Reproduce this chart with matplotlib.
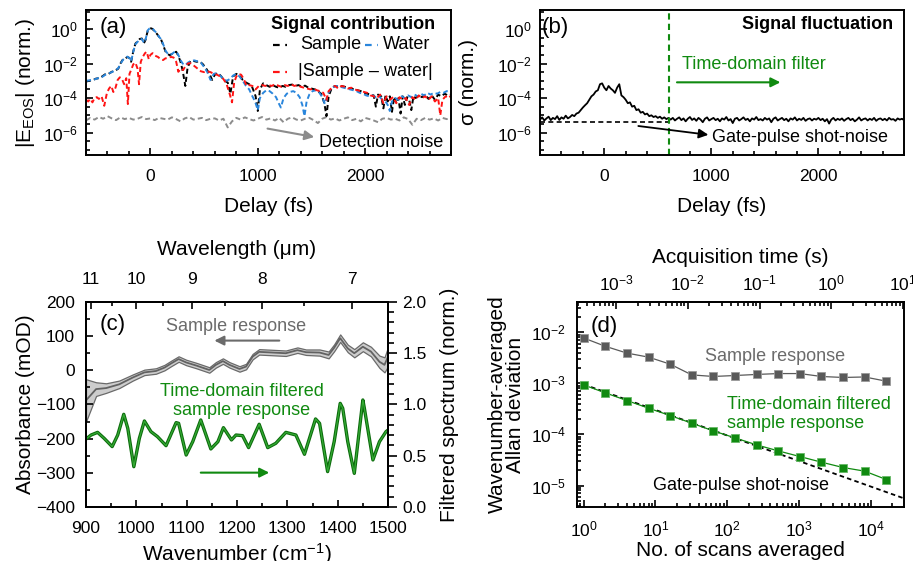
import matplotlib
matplotlib.use('Agg')

import matplotlib.pyplot as plt
import numpy as np
from matplotlib.ticker import FixedLocator, MultipleLocator, LogLocator, NullFormatter

plt.rcParams['font.family'] = ['Liberation Sans', 'DejaVu Sans']
plt.rcParams['mathtext.fontset'] = 'custom'
plt.rcParams['mathtext.rm'] = 'Liberation Sans'
plt.rcParams['mathtext.it'] = 'Liberation Sans:italic'
plt.rcParams['mathtext.bf'] = 'Liberation Sans:bold'
plt.rcParams['mathtext.default'] = 'regular'
plt.rcParams['axes.linewidth'] = 1.4

# ---------------- (a) signal contribution, log10 of |E_EOS| ----------------
sample_t = [-600, -570, -540, -510, -480, -450, -420, -390, -360, -330, -300, -275, -255, -235,
            -215, -195, -180, -160, -140, -120, -100, -80, -60, -45, -25, -10, 5, 20, 40, 60, 80,
            100, 120, 140, 160, 180, 200, 220, 240, 260, 280, 300, 325, 345, 370, 400, 430, 460,
            490, 520, 550, 575, 600, 630, 660, 690, 720, 745, 770, 800, 830, 860, 890, 920, 950,
            980, 1000, 1020, 1050, 1080, 1110, 1140, 1170, 1200, 1230, 1260, 1290, 1320, 1350,
            1380, 1410, 1440, 1470, 1500, 1530, 1560, 1590, 1620, 1640, 1660, 1690, 1720, 1750,
            1780, 1810, 1840, 1870, 1900, 1930, 1960, 1990, 2020, 2050, 2080, 2100, 2120, 2150,
            2170, 2190, 2210, 2230, 2250, 2270, 2290, 2310, 2330, 2350, 2370, 2390, 2410, 2430,
            2450, 2470, 2500, 2530, 2560, 2590, 2620, 2650, 2680, 2710, 2740, 2770, 2800]
sample_log = [-3.05, -3.0, -2.98, -2.88, -2.85, -2.75, -2.62, -2.6, -2.48, -2.42, -2.3, -1.95,
              -1.75, -1.72, -1.62, -1.68, -1.9, -1.3, -0.85, -0.72, -0.58, -0.55, -0.82, -0.62,
              -0.1, 0.0, 0.04, 0.0, -0.15, -0.28, -0.45, -0.62, -0.95, -1.3, -1.45, -1.52, -1.45,
              -1.38, -1.32, -1.55, -1.9, -2.4, -3.3, -2.3, -1.85, -1.85, -1.9, -1.88, -2.05, -2.3,
              -2.6, -2.95, -2.65, -2.55, -2.75, -3.0, -3.1, -3.75, -2.75, -2.6, -2.7, -2.95, -3.1,
              -3.2, -3.4, -3.9, -4.75, -3.5, -3.15, -3.25, -3.35, -3.25, -3.35, -3.4, -3.3, -3.35,
              -3.25, -3.22, -3.3, -3.25, -3.35, -3.28, -3.4, -3.45, -3.5, -3.6, -3.75, -4.3, -5.05,
              -3.9, -3.4, -3.3, -3.35, -3.3, -3.35, -3.4, -3.45, -3.5, -3.55, -3.6, -3.7, -3.75,
              -3.8, -3.85, -4.5, -3.8, -3.9, -4.6, -3.85, -4.2, -3.9, -4.8, -3.95, -4.3, -4.0,
              -4.9, -3.9, -4.4, -3.95, -4.1, -4.7, -3.9, -4.0, -3.85, -3.95, -3.8, -4.05, -3.85,
              -4.1, -3.8, -3.9, -3.75, -3.85, -3.8]

water_t = [-600, -570, -540, -510, -480, -450, -420, -390, -360, -330, -300, -275, -255, -235,
           -215, -195, -180, -160, -140, -120, -100, -80, -60, -45, -25, -10, 5, 20, 40, 60, 80,
           100, 120, 140, 160, 180, 200, 220, 240, 260, 280, 300, 325, 350, 380, 410, 440, 470,
           500, 530, 560, 590, 620, 650, 680, 710, 740, 770, 800, 830, 860, 890, 920, 950, 975,
           1000, 1020, 1050, 1080, 1110, 1140, 1170, 1195, 1215, 1240, 1270, 1300, 1330, 1360,
           1390, 1415, 1435, 1455, 1480, 1510, 1540, 1570, 1600, 1625, 1650, 1680, 1710, 1740,
           1770, 1800, 1830, 1860, 1890, 1920, 1950, 1980, 2010, 2040, 2070, 2100, 2130, 2160,
           2190, 2210, 2230, 2250, 2280, 2310, 2340, 2370, 2400, 2430, 2460, 2490, 2520, 2550,
           2580, 2610, 2640, 2670, 2700, 2730, 2760, 2800]
water_log = [-3.0, -2.98, -2.95, -2.9, -2.83, -2.78, -2.65, -2.58, -2.5, -2.4, -2.28, -1.98,
             -1.78, -1.7, -1.6, -1.7, -1.88, -1.32, -0.88, -0.75, -0.6, -0.58, -0.8, -0.6, -0.08,
             0.02, 0.05, 0.02, -0.12, -0.25, -0.45, -0.6, -0.9, -1.25, -1.42, -1.5, -1.45, -1.35,
             -1.3, -1.5, -1.8, -2.0, -2.1, -1.95, -1.85, -1.82, -1.88, -1.95, -2.2, -2.5, -2.95,
             -2.6, -2.55, -2.7, -2.9, -3.0, -2.9, -2.7, -2.6, -2.75, -3.0, -3.3, -3.5, -3.9, -4.2,
             -4.7, -4.0, -3.7, -3.55, -3.6, -3.75, -3.95, -4.3, -4.55, -4.0, -3.75, -3.65, -3.6,
             -3.7, -3.95, -4.4, -5.05, -4.2, -3.8, -3.6, -3.55, -3.65, -3.95, -4.35, -3.8, -3.45,
             -3.35, -3.3, -3.35, -3.4, -3.45, -3.5, -3.55, -3.6, -3.7, -3.75, -3.85, -3.9, -3.85,
             -3.95, -3.9, -4.1, -4.2, -4.4, -4.75, -4.2, -4.0, -4.1, -3.9, -4.0, -3.85, -3.95,
             -3.8, -3.9, -3.75, -3.85, -3.7, -3.8, -3.7, -3.75, -3.65, -3.7, -3.6, -3.65]

diff_t = [-600, -580, -560, -540, -520, -500, -480, -455, -430, -405, -385, -365, -345, -325,
          -305, -285, -265, -245, -225, -210, -195, -178, -160, -140, -120, -106, -90, -70, -50,
          -35, -15, 0, 20, 45, 70, 95, 118, 140, 165, 190, 215, 240, 260, 280, 305, 330, 355,
          380, 410, 440, 470, 500, 530, 560, 590, 620, 650, 680, 710, 740, 760, 780, 800, 820,
          845, 870, 895, 920, 950, 980, 1010, 1040, 1070, 1100, 1130, 1160, 1190, 1220, 1250,
          1280, 1310, 1340, 1370, 1400, 1430, 1460, 1490, 1520, 1550, 1580, 1610, 1640, 1660,
          1690, 1720, 1750, 1780, 1810, 1840, 1870, 1900, 1930, 1960, 1990, 2020, 2050, 2080,
          2110, 2140, 2170, 2200, 2230, 2260, 2290, 2320, 2350, 2380, 2410, 2440, 2470, 2500,
          2530, 2560, 2590, 2620, 2650, 2680, 2700, 2720, 2750, 2780, 2800]
diff_log = [-4.1, -4.2, -4.05, -4.25, -4.0, -3.95, -4.05, -3.9, -4.45, -3.7, -3.45, -3.3, -3.65,
            -3.4, -2.95, -2.8, -2.9, -3.2, -2.85, -4.35, -2.6, -2.35, -2.05, -1.95, -2.3, -3.2,
            -1.9, -1.6, -1.4, -1.32, -1.75, -1.5, -1.4, -1.55, -1.62, -1.75, -1.8, -1.7, -1.68,
            -1.62, -1.65, -1.9, -2.48, -2.3, -2.38, -2.1, -1.98, -2.0, -2.15, -2.3, -2.45, -2.5,
            -2.45, -2.5, -2.6, -2.65, -2.75, -2.9, -3.2, -3.8, -4.25, -3.1, -2.75, -2.6, -2.65,
            -2.9, -3.3, -3.25, -3.3, -3.5, -3.3, -3.25, -3.3, -3.25, -3.3, -3.2, -3.28, -3.35,
            -3.25, -3.3, -3.2, -3.3, -3.25, -3.35, -3.4, -3.45, -3.5, -3.45, -3.55, -3.6, -3.7,
            -4.1, -3.6, -3.4, -3.3, -3.45, -3.3, -3.35, -3.45, -3.4, -3.5, -3.55, -3.6, -3.65,
            -3.7, -3.85, -3.9, -4.0, -3.8, -4.3, -3.9, -4.1, -3.95, -4.3, -3.95, -4.1, -4.0,
            -4.4, -3.95, -4.1, -3.85, -4.0, -3.9, -4.1, -3.9, -4.2, -4.0, -5.0, -4.1, -3.9, -4.0,
            -3.85]

# detection noise, sampled every 40 fs
noise_t = list(range(-600, 2801, 40))
noise_log = [-5.3, -5.15, -5.25, -5.1, -5.2, -5.05, -5.18, -5.28, -5.12, -5.22,
             -5.15, -5.25, -5.2, -5.1, -5.22, -5.18, -5.28, -5.15, -5.2, -5.25,
             -5.12, -5.22, -5.35, -5.18, -5.1, -5.25, -5.2, -5.15, -5.28, -5.2,
             -5.18, -5.3, -5.2, -5.7, -5.35, -5.15, -5.25, -5.12, -5.22, -5.3,
             -5.2, -5.1, -5.25, -5.18, -5.3, -5.15, -5.4, -5.2, -5.12, -5.25,
             -5.3, -5.2, -5.15, -5.28, -5.45, -5.2, -5.1, -5.25, -5.18, -5.3,
             -5.2, -5.12, -5.28, -5.2, -5.35, -5.15, -5.22, -5.3, -5.4, -5.2,
             -5.15, -5.25, -5.2, -5.3, -5.12, -5.22, -5.55, -5.2, -5.28, -5.15,
             -5.25, -5.18, -5.3, -5.15, -5.22, -5.2]

# ---------------- (b) signal fluctuation, sampled every 20 fs ----------------
sigma_t = list(range(-600, 2801, 20))
sigma_log = [-5.25, -5.12, -5.3, -5.18, -5.08, -5.28, -5.15, -5.22, -5.05, -5.27, -5.12, -5.2,
             -5.02, -5.18, -5.1, -4.98,
             -5.05, -4.9, -4.85, -4.7, -4.55, -4.42, -4.3, -4.1, -3.9, -3.8, -3.62, -3.55, -3.2,
             -3.15, -3.4,
             -3.55, -3.3, -3.45, -3.55, -3.7, -3.4, -3.2, -3.85, -3.95, -4.1, -4.3, -4.25, -4.5,
             -4.45, -4.7,
             -4.65, -4.85, -4.8, -4.95, -4.9, -5.05, -5.0, -5.1, -5.05, -5.15, -5.08, -5.2, -5.12,
             -5.22, -5.15,
             -5.25, -5.15, -5.3, -5.2, -5.12, -5.28, -5.18, -5.35, -5.2, -5.1,
             -5.27, -5.18, -5.32, -5.15, -5.25, -5.4, -5.2, -5.12, -5.3, -5.22,
             -5.15, -5.28, -5.2, -5.35, -5.18, -5.25, -5.1, -5.3, -5.22, -5.45,
             -5.2, -5.15, -5.3, -5.22, -5.12, -5.27, -5.2, -5.35, -5.18, -5.25,
             -5.1, -5.28, -5.22, -5.3, -5.15, -5.25, -5.18, -5.4, -5.2, -5.12,
             -5.3, -5.22, -5.15, -5.28, -5.2, -5.35, -5.18, -5.25, -5.12, -5.3,
             -5.2, -5.27, -5.15, -5.32, -5.22, -5.18, -5.3, -5.2, -5.25, -5.15,
             -5.28, -5.2, -5.35, -5.22, -5.48, -5.25, -5.15, -5.3, -5.2, -5.27,
             -5.18, -5.32, -5.22, -5.15, -5.28, -5.2, -5.35, -5.25, -5.12, -5.3,
             -5.22, -5.18, -5.3, -5.2, -5.27, -5.15, -5.32, -5.22, -5.18, -5.28,
             -5.2, -5.3, -5.15, -5.25, -5.22, -5.32, -5.18, -5.25, -5.2, -5.28]
shot_t = [-600, 600]
shot_level = [3.9e-6, 3.9e-6]
filter_start = 600

# ---------------- (c) spectra ----------------
wn_sample = [900, 920, 940, 966, 993, 1016, 1039, 1056, 1069, 1084, 1099, 1119, 1145, 1158,
             1172, 1185, 1205, 1218, 1231, 1244, 1271, 1297, 1320, 1337, 1364, 1382, 1393,
             1405, 1420, 1433, 1450, 1466, 1483, 1493, 1500]
absorbance = [-88, -55, -52, -41, -21, -6, -2, 8, 20, 33, 23, 14, 1, 16, 27, 16, 4, 11, 40, 54,
              52, 50, 59, 53, 52, 45, 66, 94, 64, 50, 69, 55, 25, 16, 40]
absorbance_err = [62, 20, 14, 11, 9, 8, 8, 8, 8, 8, 8, 8, 8, 8, 8, 8, 8, 8, 8, 8, 8, 8, 8, 8, 9,
                  10, 10, 11, 11, 12, 13, 14, 18, 22, 28]

wn_filtered = [900, 910, 923, 936, 952, 963, 975, 983, 995, 1006, 1016, 1029, 1042, 1059, 1079,
               1084, 1099, 1112, 1128, 1148, 1162, 1173, 1189, 1198, 1211, 1223, 1244, 1261,
               1277, 1297, 1317, 1334, 1356, 1364, 1380, 1393, 1405, 1410, 1420, 1433, 1450,
               1453, 1470, 1483, 1496, 1500]
filtered = [0.663, 0.702, 0.728, 0.67, 0.589, 0.702, 0.904, 0.767, 0.393, 0.67, 0.839, 0.735,
            0.686, 0.598, 0.823, 0.816, 0.507, 0.637, 0.849, 0.566, 0.637, 0.774, 0.654, 0.702,
            0.696, 0.579, 0.807, 0.579, 0.621, 0.728, 0.702, 0.514, 0.859, 0.816, 0.345, 0.637,
            1.011, 0.963, 0.637, 0.328, 1.044, 0.963, 0.459, 0.637, 0.735, 0.75]
wavelength_major = [11, 10, 9, 8, 7]
wavelength_minor = [10.5, 9.5, 8.5, 7.5]

# ---------------- (d) Allan deviation ----------------
n_scans = [1, 2, 4, 8, 16, 32, 64, 128, 256, 512, 1024, 2048, 4096, 8192, 16384]
allan_sample = [7.7e-3, 5.3e-3, 3.9e-3, 3.25e-3, 2.37e-3, 1.46e-3, 1.36e-3, 1.42e-3, 1.49e-3,
                1.55e-3, 1.55e-3, 1.36e-3, 1.3e-3, 1.33e-3, 1.1e-3]
allan_filtered = [9.3e-4, 6.5e-4, 4.6e-4, 3.26e-4, 2.34e-4, 1.66e-4, 1.17e-4, 8.55e-5, 6.24e-5,
                  4.76e-5, 3.69e-5, 2.86e-5, 2.25e-5, 1.91e-5, 1.31e-5]
shot_n = [1, 30000]
shot_allan = [9.5e-4, 5.5e-6]
scan_time = 3.55e-4   # s per scan

black = 'black'
blue = '#2a86dc'
red = '#ff1414'
green = '#108a10'
gray_text = '#6b6b6b'
gray_mark = '#5a5a5a'

TICK = 12.5
LABEL = 15
ANNOT = 13


def style(ax, pad=10):
    ax.tick_params(which='both', direction='in', width=1.2, labelsize=TICK, pad=pad)
    ax.tick_params(which='major', length=5)
    ax.tick_params(which='minor', length=2.8)


def lg(vals):
    return np.power(10.0, vals)


fig = plt.figure(figsize=(9.13, 5.61), dpi=100)

# ---- panel (a)
ax_a = fig.add_axes([0.0942, 0.7237, 0.3998, 0.2585])
dash = (0, (2.6, 1.6))
ax_a.plot(noise_t, lg(noise_log), color='#8c8c8c', lw=1.4, ls=dash)
ax_a.plot(sample_t, lg(sample_log), color=black, lw=1.4, ls=dash)
ax_a.plot(water_t, lg(water_log), color=blue, lw=1.4, ls=dash)
ax_a.plot(diff_t, lg(diff_log), color=red, lw=1.4, ls=dash)

# ---- panel (b)
ax_b = fig.add_axes([0.5915, 0.7237, 0.3987, 0.2585])
ax_b.plot(shot_t, shot_level, color=black, lw=1.2, ls=(0, (3, 2)))
ax_b.plot(sigma_t, lg(sigma_log), color=black, lw=1.3)
ax_b.axvline(filter_start, color=green, lw=1.5, ls=(0, (3, 2)))

for ax in (ax_a, ax_b):
    ax.set_yscale('log')
    ax.set_xlim(-600, 2800)
    ax.set_ylim(10 ** -7.3, 10 ** 1.1)
    ax.set_xticks([0, 1000, 2000])
    ax.xaxis.set_minor_locator(MultipleLocator(200))
    ax.set_yticks([1, 1e-2, 1e-4, 1e-6])
    ax.set_yticklabels(['$10^{0}$', '$10^{-2}$', '$10^{-4}$', '$10^{-6}$'])
    ax.yaxis.set_minor_locator(FixedLocator(lg(np.arange(-7.0, 1.01, 0.5))))
    ax.yaxis.set_minor_formatter(NullFormatter())
    style(ax)
    ax.tick_params(axis='y', pad=6)
    ax.set_xlabel('Delay (fs)', fontsize=LABEL)
    ax.xaxis.set_label_coords(0.5, -0.29)

ax_a.set_ylabel('|E$_{\\mathrm{EOS}}$| (norm.)', fontsize=LABEL)
ax_a.yaxis.set_label_coords(-0.134, 0.5)
ax_b.set_ylabel('σ (norm.)', fontsize=LABEL)
ax_b.yaxis.set_label_coords(-0.170, 0.5)

ax_a.text(0.036, 0.876, '(a)', transform=ax_a.transAxes, fontsize=16, va='center')
ax_a.text(0.956, 0.903, 'Signal contribution', transform=ax_a.transAxes, fontsize=ANNOT,
          fontweight='bold', ha='right', va='center')
for (x0, x1, y, c) in [(0.512, 0.551, 0.759, black), (0.764, 0.800, 0.759, blue),
                       (0.512, 0.551, 0.574, red)]:
    ax_a.plot([x0, x1], [y, y], color=c, lw=1.6, ls=(0, (3, 2.5)), transform=ax_a.transAxes)
ax_a.text(0.586, 0.759, 'Sample', transform=ax_a.transAxes, fontsize=ANNOT, va='center')
ax_a.text(0.814, 0.759, 'Water', transform=ax_a.transAxes, fontsize=ANNOT, va='center')
ax_a.text(0.581, 0.574, '|Sample – water|', transform=ax_a.transAxes, fontsize=ANNOT,
          va='center')
ax_a.annotate('', xy=(1526, 10 ** -6.26), xytext=(1091, 10 ** -5.77),
              arrowprops=dict(arrowstyle='-|>', color='#8c8c8c', lw=1.5, mutation_scale=14,
                              shrinkA=0, shrinkB=0))
ax_a.text(0.637, 0.087, 'Detection noise', transform=ax_a.transAxes, fontsize=ANNOT,
          va='center')

ax_b.text(0.005, 0.876, '(b)', transform=ax_b.transAxes, fontsize=16, va='center')
ax_b.text(0.970, 0.903, 'Signal fluctuation', transform=ax_b.transAxes, fontsize=ANNOT,
          fontweight='bold', ha='right', va='center')
ax_b.annotate('', xy=(1645, 10 ** -3.09), xytext=(679, 10 ** -3.09),
              arrowprops=dict(arrowstyle='-|>', color=green, lw=1.5, mutation_scale=14,
                              shrinkA=0, shrinkB=0))
ax_b.text(726, 10 ** -2.03, 'Time-domain filter', color=green, fontsize=ANNOT, va='center')
ax_b.annotate('', xy=(972, 10 ** -6.13), xytext=(318, 10 ** -5.62),
              arrowprops=dict(arrowstyle='-|>', color=black, lw=1.3, mutation_scale=14,
                              shrinkA=0, shrinkB=0))
ax_b.text(1010, 10 ** -6.28, 'Gate-pulse shot-noise', fontsize=ANNOT, va='center')

# ---- panel (c)
ax_c = fig.add_axes([0.0942, 0.0963, 0.3308, 0.3654])
ab = np.array(absorbance, dtype=float)
er = np.array(absorbance_err, dtype=float)
ax_c.fill_between(wn_sample, ab - er, ab + er, facecolor='#cdcdcd', edgecolor='#6a6a6a',
                  lw=0.9)
ax_c.plot(wn_sample, ab, color='#626262', lw=1.3)
ax_c.set_xlim(900, 1500)
ax_c.set_ylim(-400, 200)
ax_c.xaxis.set_major_locator(MultipleLocator(100))
ax_c.xaxis.set_minor_locator(MultipleLocator(50))
ax_c.yaxis.set_major_locator(MultipleLocator(100))
ax_c.yaxis.set_minor_locator(MultipleLocator(50))
style(ax_c)
ax_c.tick_params(axis='y', pad=8)
ax_c.tick_params(axis='x', pad=10)
ax_c.set_xlabel('Wavenumber (cm$^{-1}$)', fontsize=LABEL)
ax_c.xaxis.set_label_coords(0.5, -0.165)
ax_c.set_ylabel('Absorbance (mOD)', fontsize=LABEL)
ax_c.yaxis.set_label_coords(-0.169, 0.5)

ax_c2 = ax_c.twinx()
ax_c2.plot(wn_filtered, filtered, color='#0b6a0b', lw=2.4)
ax_c2.plot(wn_filtered, filtered, color='#34aa34', lw=0.9)
ax_c2.set_ylim(0, 2)
ax_c2.yaxis.set_major_locator(MultipleLocator(0.5))
ax_c2.yaxis.set_minor_locator(MultipleLocator(0.1))
ax_c2.yaxis.set_major_formatter(plt.FormatStrFormatter('%.1f'))
ax_c2.tick_params(which='both', direction='out', width=1.2, labelsize=TICK, pad=4)
ax_c2.tick_params(which='major', length=6.5)
ax_c2.tick_params(which='minor', length=4)
ax_c2.set_ylabel('Filtered spectrum (norm.)', fontsize=LABEL, rotation=90)
ax_c2.yaxis.set_label_coords(1.172, 0.5)

ax_c3 = ax_c.twiny()
ax_c3.set_xlim(900, 1500)
ax_c3.set_xticks([1e4 / w for w in wavelength_major])
ax_c3.set_xticklabels([str(w) for w in wavelength_major])
ax_c3.set_xticks([1e4 / w for w in wavelength_minor], minor=True)
style(ax_c3, pad=11)
ax_c3.set_xlabel('Wavelength (μm)', fontsize=LABEL)
ax_c3.xaxis.set_label_coords(0.5, 1.229)

ax_c.text(0.044, 0.888, '(c)', transform=ax_c.transAxes, fontsize=16, va='center')
ax_c.text(0.265, 0.878, 'Sample response', transform=ax_c.transAxes, fontsize=ANNOT,
          color=gray_text, va='center')
ax_c.annotate('', xy=(1155, 87), xytext=(1284, 87),
              arrowprops=dict(arrowstyle='-|>', color='#6b6b6b', lw=1.5, mutation_scale=14,
                              shrinkA=0, shrinkB=0))
ax_c.text(0.515, 0.517, 'Time-domain filtered\nsample response', transform=ax_c.transAxes,
          fontsize=ANNOT, color=green, ha='center', va='center', linespacing=1.15)
ax_c2.annotate('', xy=(1264, 0.335), xytext=(1128, 0.335),
               arrowprops=dict(arrowstyle='-|>', color=green, lw=1.5, mutation_scale=14,
                               shrinkA=0, shrinkB=0))

# ---- panel (d)
ax_d = fig.add_axes([0.6317, 0.0963, 0.3585, 0.3654])
ax_d.plot(shot_n, shot_allan, color=black, lw=1.3, ls=(0, (2.5, 1.8)))
ax_d.plot(n_scans, allan_sample, color=gray_mark, lw=0.9, marker='s', ms=6.4,
          mfc=gray_mark, mec='#9a9a9a', mew=0.6)
ax_d.plot(n_scans, allan_filtered, color=green, lw=0.9, marker='s', ms=6.4,
          mfc=green, mec='#66b866', mew=0.6)
ax_d.set_xscale('log')
ax_d.set_yscale('log')
ax_d.set_xlim(0.8, 2.9e4)
ax_d.set_ylim(3.8e-6, 3.9e-2)
ax_d.xaxis.set_major_locator(LogLocator(base=10, numticks=10))
ax_d.xaxis.set_minor_locator(LogLocator(base=10, subs=np.arange(2, 10), numticks=10))
ax_d.xaxis.set_minor_formatter(NullFormatter())
ax_d.set_yticks([1e-2, 1e-3, 1e-4, 1e-5])
ax_d.yaxis.set_minor_locator(LogLocator(base=10, subs=np.arange(2, 10), numticks=10))
ax_d.yaxis.set_minor_formatter(NullFormatter())
style(ax_d, pad=9)
ax_d.tick_params(axis='y', pad=8)
ax_d.set_xlabel('No. of scans averaged', fontsize=LABEL)
ax_d.xaxis.set_label_coords(0.5, -0.165)
ax_d.set_ylabel('Wavenumber-averaged\nAllan deviation', fontsize=LABEL, linespacing=0.95)
ax_d.yaxis.set_label_coords(-0.158, 0.5)

ax_top = ax_d.secondary_xaxis('top', functions=(lambda n: n * scan_time,
                                                 lambda t: t / scan_time))
ax_top.xaxis.set_major_locator(LogLocator(base=10, numticks=10))
ax_top.xaxis.set_minor_locator(LogLocator(base=10, subs=np.arange(2, 10), numticks=10))
ax_top.xaxis.set_minor_formatter(NullFormatter())
ax_top.tick_params(which='both', direction='in', width=1.2, labelsize=TICK, pad=6)
ax_top.tick_params(which='major', length=5)
ax_top.tick_params(which='minor', length=2.8)
ax_top.set_xlabel('Acquisition time (s)', fontsize=LABEL, labelpad=8)

ax_d.text(0.041, 0.882, '(d)', transform=ax_d.transAxes, fontsize=16, va='center')
ax_d.text(0.392, 0.735, 'Sample response', transform=ax_d.transAxes, fontsize=ANNOT,
          color=gray_text, va='center')
ax_d.text(0.458, 0.453, 'Time-domain filtered\nsample response', transform=ax_d.transAxes,
          fontsize=ANNOT, color=green, va='center', linespacing=1.2)
ax_d.text(0.233, 0.106, 'Gate-pulse shot-noise', transform=ax_d.transAxes, fontsize=ANNOT,
          va='center')

fig.savefig('out.png', dpi=100)
plt.close(fig)
